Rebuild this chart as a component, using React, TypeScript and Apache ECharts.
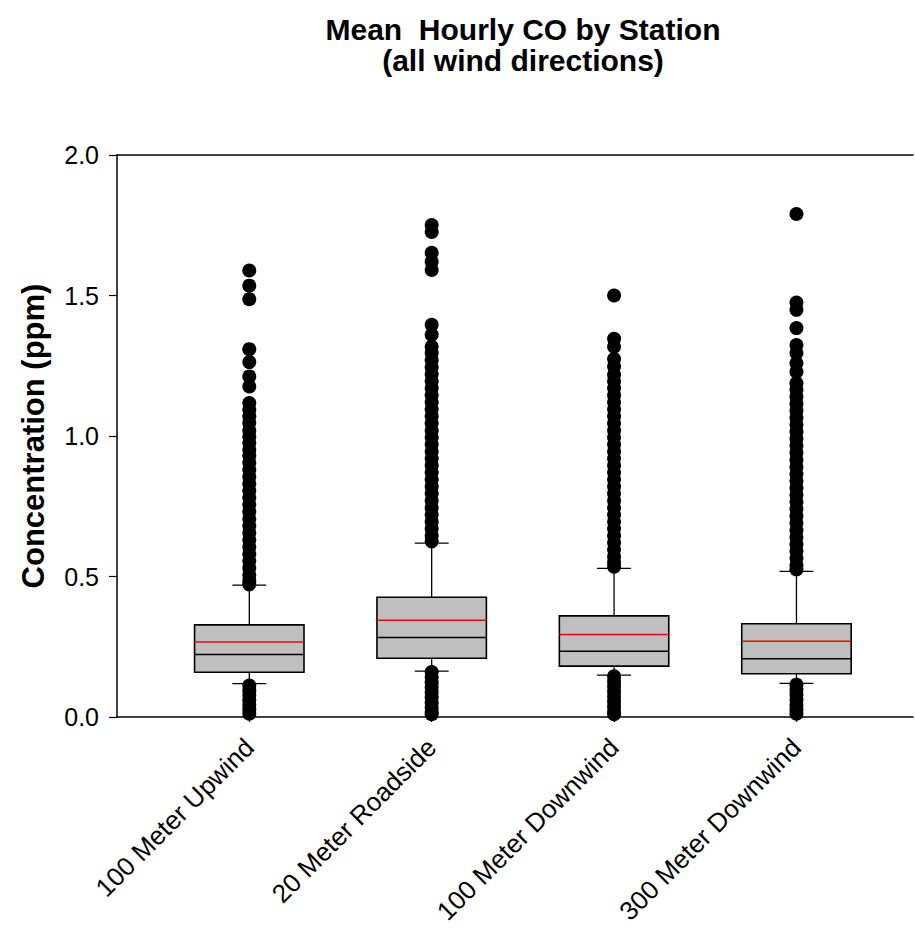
import React, { useEffect, useRef } from "react";
import * as echarts from "echarts";

const categories = ["100 Meter Upwind", "20 Meter Roadside", "100 Meter Downwind", "300 Meter Downwind"];
const positions = [1, 2, 3, 4];
// [lower whisker, Q1, median, Q3, upper whisker]
const boxStats = [
  [0.119, 0.159, 0.222, 0.328, 0.469],
  [0.163, 0.209, 0.283, 0.426, 0.619],
  [0.149, 0.181, 0.234, 0.36, 0.529],
  [0.12, 0.154, 0.207, 0.332, 0.518],
];
const means = [0.267, 0.344, 0.294, 0.27];

const outliersUpwind100 = [
  1.589, 1.535, 1.487, 1.309, 1.263, 1.212, 1.176, 1.117, 1.093, 1.07, 1.047, 1.02, 0.997, 0.975, 0.951,
  0.93, 0.905, 0.88, 0.855, 0.83, 0.805, 0.78, 0.755, 0.73, 0.705, 0.68, 0.655, 0.63, 0.605, 0.58, 0.555,
  0.53, 0.505, 0.485, 0.472,
  0.112, 0.095, 0.078, 0.06, 0.043, 0.027, 0.012,
];
const outliersRoadside20 = [
  1.751, 1.726, 1.652, 1.62, 1.591, 1.396, 1.36, 1.318, 1.295, 1.27, 1.245, 1.22, 1.195, 1.17, 1.145, 1.12,
  1.095, 1.07, 1.045, 1.02, 0.995, 0.97, 0.945, 0.92, 0.895, 0.87, 0.845, 0.82, 0.795, 0.77, 0.745, 0.72,
  0.695, 0.67, 0.645, 0.625,
  0.16, 0.142, 0.124, 0.106, 0.088, 0.07, 0.052, 0.034, 0.018, 0.01,
];
const outliersDownwind100 = [
  1.5, 1.346, 1.318, 1.274, 1.247, 1.218, 1.195, 1.17, 1.145, 1.12, 1.095, 1.07, 1.045, 1.02, 0.995, 0.97,
  0.945, 0.92, 0.895, 0.87, 0.845, 0.82, 0.795, 0.77, 0.745, 0.72, 0.695, 0.67, 0.645, 0.62, 0.595, 0.57,
  0.55, 0.535,
  0.145, 0.127, 0.109, 0.091, 0.073, 0.055, 0.037, 0.02, 0.01,
];
const outliersDownwind300 = [
  1.79, 1.475, 1.449, 1.384, 1.324, 1.295, 1.259, 1.229, 1.188, 1.165, 1.14, 1.115, 1.09, 1.065, 1.04, 1.015,
  0.99, 0.965, 0.94, 0.915, 0.89, 0.865, 0.84, 0.815, 0.79, 0.765, 0.74, 0.715, 0.69, 0.665, 0.64, 0.615,
  0.59, 0.565, 0.54, 0.525,
  0.115, 0.097, 0.079, 0.061, 0.043, 0.026, 0.012,
];
const outliers = [outliersUpwind100, outliersRoadside20, outliersDownwind100, outliersDownwind300];
const yTicks = [0, 0.5, 1, 1.5, 2];
const titleLines = ["Mean  Hourly CO by Station", "(all wind directions)"];

const FONT = "'Liberation Sans', Arial, Helvetica, sans-serif";
const X_MIN = 0.2747;
const X_MAX = 4.639;

export default function App() {
  const ref = useRef<HTMLDivElement>(null);
  useEffect(() => {
    if (!ref.current) return;
    const chart = echarts.init(ref.current, null, { renderer: "svg" });

    const boxData = positions.map((p, i) => [p, ...boxStats[i], means[i]]);
    const scatterData: number[][] = [];
    outliers.forEach((arr, i) => arr.forEach((v) => scatterData.push([positions[i], v])));

    const axisLineStyle = { color: "#000", width: 1.5 };

    const option: any = {
      animation: false,
      backgroundColor: "#fff",
      textStyle: { fontFamily: FONT, color: "#000" },
      graphic: titleLines.map((t, i) => ({
        type: "text",
        x: 523,
        y: 29 + i * 31,
        style: {
          text: t,
          font: `bold 30px ${FONT}`,
          fill: "#000",
          textAlign: "center",
          textVerticalAlign: "middle",
        },
      })),
      grid: {
        left: 117,
        top: 155,
        right: 2,
        height: 562,
        show: false,
      },
      xAxis: [
        {
          type: "value",
          min: X_MIN,
          max: X_MAX,
          splitLine: { show: false },
          axisLine: { show: true, onZero: false, lineStyle: axisLineStyle },
          axisTick: {
            show: true,
            inside: false,
            length: 5,
            customValues: positions,
            lineStyle: { color: "#000", width: 1.2 },
          },
          axisLabel: {
            show: true,
            customValues: positions,
            rotate: 45,
            fontSize: 26,
            fontFamily: FONT,
            color: "#000",
            margin: 26,
            formatter: (v: number) => categories[Math.round(v) - 1] ?? "",
          },
        },
        {
          type: "value",
          position: "top",
          min: X_MIN,
          max: X_MAX,
          splitLine: { show: false },
          axisLine: { show: true, onZero: false, lineStyle: axisLineStyle },
          axisTick: { show: false },
          axisLabel: { show: false },
        },
      ],
      yAxis: {
        type: "value",
        min: 0,
        max: 2,
        interval: 0.5,
        splitLine: { show: false },
        axisLine: { show: true, onZero: false, lineStyle: axisLineStyle },
        axisTick: { show: true, inside: false, length: 8, lineStyle: { color: "#000", width: 1.2 } },
        axisLabel: {
          fontSize: 25,
          fontFamily: FONT,
          color: "#000",
          margin: 18,
          formatter: (v: number) => (yTicks.includes(v) ? v.toFixed(1) : ""),
        },
        name: "Concentration (ppm)",
        nameLocation: "middle",
        nameGap: 68,
        nameTextStyle: { fontSize: 31, fontWeight: "bold", fontFamily: FONT, color: "#000" },
      },
      series: [
        {
          type: "custom",
          data: boxData,
          encode: { x: 0, y: [1, 2, 3, 4, 5, 6] },
          z: 2,
          renderItem: (params: any, api: any) => {
            const x = api.value(0);
            const lo = api.coord([x, api.value(1)]);
            const q1 = api.coord([x, api.value(2)]);
            const med = api.coord([x, api.value(3)]);
            const q3 = api.coord([x, api.value(4)]);
            const hi = api.coord([x, api.value(5)]);
            const mean = api.coord([x, api.value(6)]);
            const unit = api.size([1, 0])[0];
            const halfW = unit * 0.3;
            const capW = unit * 0.093;
            const cx = lo[0];
            const stroke = { stroke: "#000", lineWidth: 1.3 };
            return {
              type: "group",
              children: [
                { type: "line", shape: { x1: cx, y1: q3[1], x2: cx, y2: hi[1] }, style: stroke },
                { type: "line", shape: { x1: cx, y1: q1[1], x2: cx, y2: lo[1] }, style: stroke },
                { type: "line", shape: { x1: cx - capW, y1: hi[1], x2: cx + capW, y2: hi[1] }, style: stroke },
                { type: "line", shape: { x1: cx - capW, y1: lo[1], x2: cx + capW, y2: lo[1] }, style: stroke },
                {
                  type: "rect",
                  shape: { x: cx - halfW, y: q3[1], width: halfW * 2, height: q1[1] - q3[1] },
                  style: { fill: "#c0c0c0", stroke: "#000", lineWidth: 1.6 },
                },
                { type: "line", shape: { x1: cx - halfW, y1: med[1], x2: cx + halfW, y2: med[1] }, style: { stroke: "#000", lineWidth: 1.5 } },
                { type: "line", shape: { x1: cx - halfW, y1: mean[1], x2: cx + halfW, y2: mean[1] }, style: { stroke: "#ff0000", lineWidth: 1.5 } },
              ],
            };
          },
        },
        {
          type: "scatter",
          data: scatterData,
          symbol: "circle",
          symbolSize: 14,
          itemStyle: { color: "#000", opacity: 1 },
          z: 3,
        },
      ],
    };
    chart.setOption(option);
    return () => chart.dispose();
  }, []);
  return <div ref={ref} style={{ position: "fixed", left: 0, top: 0, width: 915, height: 928 }} />;
}
